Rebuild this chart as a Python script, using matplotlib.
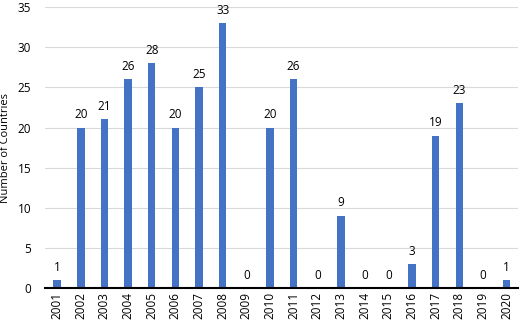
import matplotlib
matplotlib.use("Agg")
import matplotlib.pyplot as plt

years = [str(y) for y in range(2001, 2021)]
values = [1, 20, 21, 26, 28, 20, 25, 33, 0, 20, 26, 0, 9, 0, 0, 3, 19, 23, 0, 1]

plt.rcParams['font.family'] = ['Open Sans', 'DejaVu Sans']
fig = plt.figure(figsize=(5.2, 3.24), dpi=100)
ax = fig.add_axes([0.087, 0.111, 0.91, 0.867])
x = list(range(len(years)))
ax.bar(x, values, width=0.32, color='#4472C4', zorder=3)
for xi, v in zip(x, values):
    ax.text(xi, v + 0.8, str(v), ha='center', va='bottom', fontsize=8.5, color='#000000')
ax.set_xlim(-0.5, len(years) - 0.5)
ax.set_ylim(0, 35)
ax.set_yticks(range(0, 36, 5))
ax.set_xticks(x)
ax.set_xticklabels(years, rotation=90, fontsize=8.5)
ax.tick_params(axis='y', labelsize=8.5, length=0, pad=10)
ax.tick_params(axis='x', length=0, pad=3)
ax.grid(axis='y', color='#D9D9D9', linewidth=0.8, zorder=0)
for s in ['top', 'right', 'left']:
    ax.spines[s].set_visible(False)
ax.spines['bottom'].set_color('black')
ax.spines['bottom'].set_linewidth(1.5)
ax.spines['bottom'].set_zorder(4)
ax.set_ylabel('Number of Countries', fontsize=8, labelpad=5)
fig.savefig('out.png', dpi=100)
